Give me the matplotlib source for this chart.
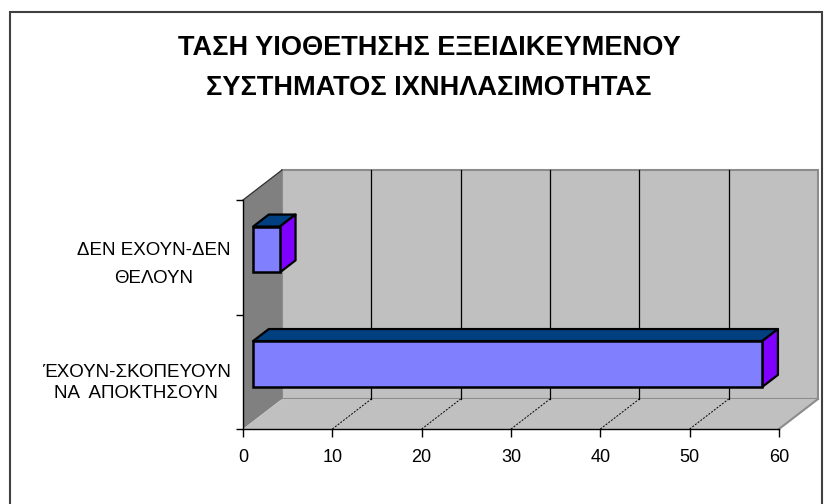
import matplotlib
matplotlib.use("Agg")
import matplotlib.pyplot as plt
import matplotlib.transforms as mtransforms
from matplotlib.patches import Rectangle, Polygon

# data
categories = ["ΈΧΟΥΝ-ΣΚΟΠΕΥΟΥΝ\nΝΑ  ΑΠΟΚΤΗΣΟΥΝ", "ΔΕΝ ΕΧΟΥΝ-ΔΕΝ\nΘΕΛΟΥΝ"]
values = [57, 3]
xticks = [0, 10, 20, 30, 40, 50, 60]
title = "ΤΑΣΗ ΥΙΟΘΕΤΗΣΗΣ ΕΞΕΙΔΙΚΕΥΜΕΝΟΥ\nΣΥΣΤΗΜΑΤΟΣ ΙΧΝΗΛΑΣΙΜΟΤΗΤΑΣ"

plt.rcParams["font.family"] = ["Liberation Sans", "DejaVu Sans"]

DPI = 100
W, H = 830, 504
DX, DY = 39, 30          # depth of the 3d box in pixels
BAR_D0, BAR_D1 = 0.26, 0.66
BAR_HALF = 0.2

fig = plt.figure(figsize=(W / DPI, H / DPI), dpi=DPI)
ax = fig.add_axes([243 / W, 75 / H, 536 / W, 229 / H])
ax.set_xlim(0, 60)
ax.set_ylim(0, len(categories))
ax.patch.set_visible(False)

ident = mtransforms.IdentityTransform()


def shifted(d):
    return ax.transData + mtransforms.ScaledTranslation(d * DX / DPI, d * DY / DPI, fig.dpi_scale_trans)


def proj(x, y, d):
    px, py = ax.transData.transform((x, y))
    return (px + d * DX, py + d * DY)


def poly(pts, **kw):
    ax.add_patch(Polygon(pts, closed=True, transform=ident, clip_on=False, **kw))


ymax = len(categories)
xmax = xticks[-1]

# walls and floor
ax.add_patch(Rectangle((0, 0), xmax, ymax, transform=shifted(1), facecolor="#c0c0c0",
                       edgecolor="#8c8c8c", linewidth=1.5, clip_on=False, zorder=0.5))
poly([proj(0, 0, 0), proj(0, ymax, 0), proj(0, ymax, 1), proj(0, 0, 1)],
     facecolor="#808080", edgecolor="none", zorder=0.6)
poly([proj(0, 0, 0), proj(xmax, 0, 0), proj(xmax, 0, 1), proj(0, 0, 1)],
     facecolor="#c0c0c0", edgecolor="none", zorder=0.6)
x0, y0 = proj(0, ymax, 0)
x1, y1 = proj(0, ymax, 1)
ax.plot([x0, x1], [y0, y1], color="#303030", lw=0.9, transform=ident, clip_on=False, zorder=0.7)
x0, y0 = proj(xmax, 0, 0)
x1, y1 = proj(xmax, 0, 1)
ax.plot([x0, x1], [y0, y1], color="#8c8c8c", lw=1.5, transform=ident, clip_on=False, zorder=0.7)

# gridlines
for v in xticks[1:-1]:
    ax.plot([v, v], [0, ymax], color="black", lw=0.9, transform=shifted(1), clip_on=False, zorder=0.8)
    a = proj(v, 0, 0)
    b = proj(v, 0, 1)
    ax.plot([a[0], b[0]], [a[1], b[1]], color="black", lw=0.7, ls=(0, (2, 1.5)),
            transform=ident, clip_on=False, zorder=0.8)

# 3d bars
for i, v in enumerate(values):
    c = i + 0.5
    lo, hi = c - BAR_HALF, c + BAR_HALF
    poly([proj(0, hi, BAR_D0), proj(v, hi, BAR_D0), proj(v, hi, BAR_D1), proj(0, hi, BAR_D1)],
         facecolor="#004080", edgecolor="black", linewidth=1.6, joinstyle="round", zorder=2)
    poly([proj(v, lo, BAR_D0), proj(v, hi, BAR_D0), proj(v, hi, BAR_D1), proj(v, lo, BAR_D1)],
         facecolor="#8000ff", edgecolor="black", linewidth=1.6, joinstyle="round", zorder=2)
    ax.add_patch(Rectangle((0, lo), v, hi - lo, transform=shifted(BAR_D0), facecolor="#8080ff",
                           edgecolor="black", linewidth=1.8, clip_on=False, zorder=3))

# axes
for s in ["top", "right"]:
    ax.spines[s].set_visible(False)
for s in ["left", "bottom"]:
    ax.spines[s].set_color("black")
    ax.spines[s].set_linewidth(1.0)

ax.set_xticks(xticks)
ax.set_xticklabels([str(t) for t in xticks], fontsize=13)
ax.tick_params(axis="x", direction="out", length=6, width=1, pad=8.5, colors="black")

# label anchors sit a little off the band centres, as in the original
ax.set_yticks([0.435, 1.505])
ax.set_yticklabels(categories, fontsize=13.5)
ax.set_yticks(range(len(categories) + 1), minor=True)
ax.tick_params(axis="y", which="major", length=0, pad=9)
ax.tick_params(axis="y", which="minor", direction="out", length=5, width=1)
for lbl, ls in zip(ax.get_yticklabels(), [1.33, 1.9]):
    lbl.set_multialignment("center")
    lbl.set_linespacing(ls)

# title
fig.text(429 / W, 1 - 68 / H, title, ha="center", va="center", fontsize=19.5,
         fontweight="bold", linespacing=1.72)

# chart frame
fig.add_artist(Rectangle((10 / W, -0.05), 812 / W, 1.05 - 12 / H, transform=fig.transFigure,
                         facecolor="none", edgecolor="#404040", linewidth=1.5))

fig.savefig("out.png", dpi=DPI)
